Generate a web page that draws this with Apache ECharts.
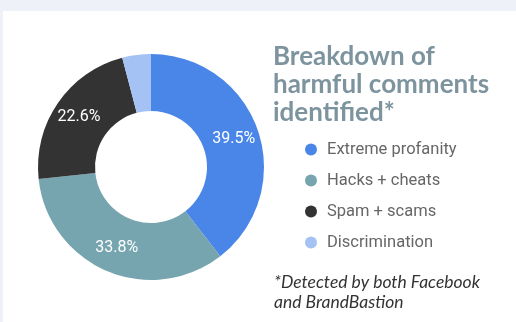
<!DOCTYPE html>
<html>
<head>
<meta charset="utf-8">
<script src="https://cdn.jsdelivr.net/npm/echarts@6/dist/echarts.min.js"></script>
<style>
html,body{margin:0;padding:0;background:#eef1f8;}
#chart{width:516px;height:322px;}
</style>
</head>
<body>
<div id="chart"></div>
<script>
const categories = ["Extreme profanity", "Hacks + cheats", "Spam + scams", "Discrimination"];
const values = [39.5, 33.8, 22.6, 4.1];
const colors = ["#4a86e8", "#76a5af", "#333333", "#a4c2f4"];
const titleText = "Breakdown of\nharmful comments\nidentified*";
const footnote = "*Detected by both Facebook\nand BrandBastion";

const chart = echarts.init(document.getElementById('chart'), null, {renderer: 'canvas'});
chart.setOption({
  backgroundColor: '#eef1f8',
  animation: false,
  color: colors,
  title: {
    text: titleText,
    left: 273,
    top: 43,
    padding: 0,
    textStyle: {
      fontFamily: 'Lato',
      fontWeight: 'bold',
      fontSize: 26,
      lineHeight: 28,
      color: '#7d949f'
    }
  },
  legend: {
    orient: 'vertical',
    left: 305,
    top: 141,
    itemWidth: 12,
    itemHeight: 12,
    itemGap: 14,
    icon: 'circle',
    padding: 0,
    data: categories,
    textStyle: {
      fontFamily: 'Roboto',
      fontSize: 16.5,
      lineHeight: 16,
      padding: [0, 0, 0, 5],
      color: '#666666'
    }
  },
  graphic: [
    {
      type: 'rect',
      z: -10,
      silent: true,
      shape: {x: 3, y: 11, width: 520, height: 320},
      style: {fill: '#ffffff'}
    },
    {
      type: 'text',
      left: 274,
      top: 272,
      style: {
        text: footnote,
        font: 'italic 17.5px Lato',
        lineHeight: 20,
        fill: '#333333'
      }
    }
  ],
  series: [{
    type: 'pie',
    center: [151, 167],
    radius: [56, 113],
    startAngle: 90,
    clockwise: true,
    avoidLabelOverlap: false,
    label: {
      show: true,
      position: 'inside',
      formatter: function (p) { return p.value >= 10 ? p.value.toFixed(1) + '%' : ''; },
      color: '#ffffff',
      fontFamily: 'Roboto',
      fontSize: 16
    },
    labelLine: {show: false},
    itemStyle: {borderWidth: 0},
    emphasis: {disabled: true},
    data: categories.map((c, i) => ({name: c, value: values[i]}))
  }]
});
</script>
</body>
</html>
